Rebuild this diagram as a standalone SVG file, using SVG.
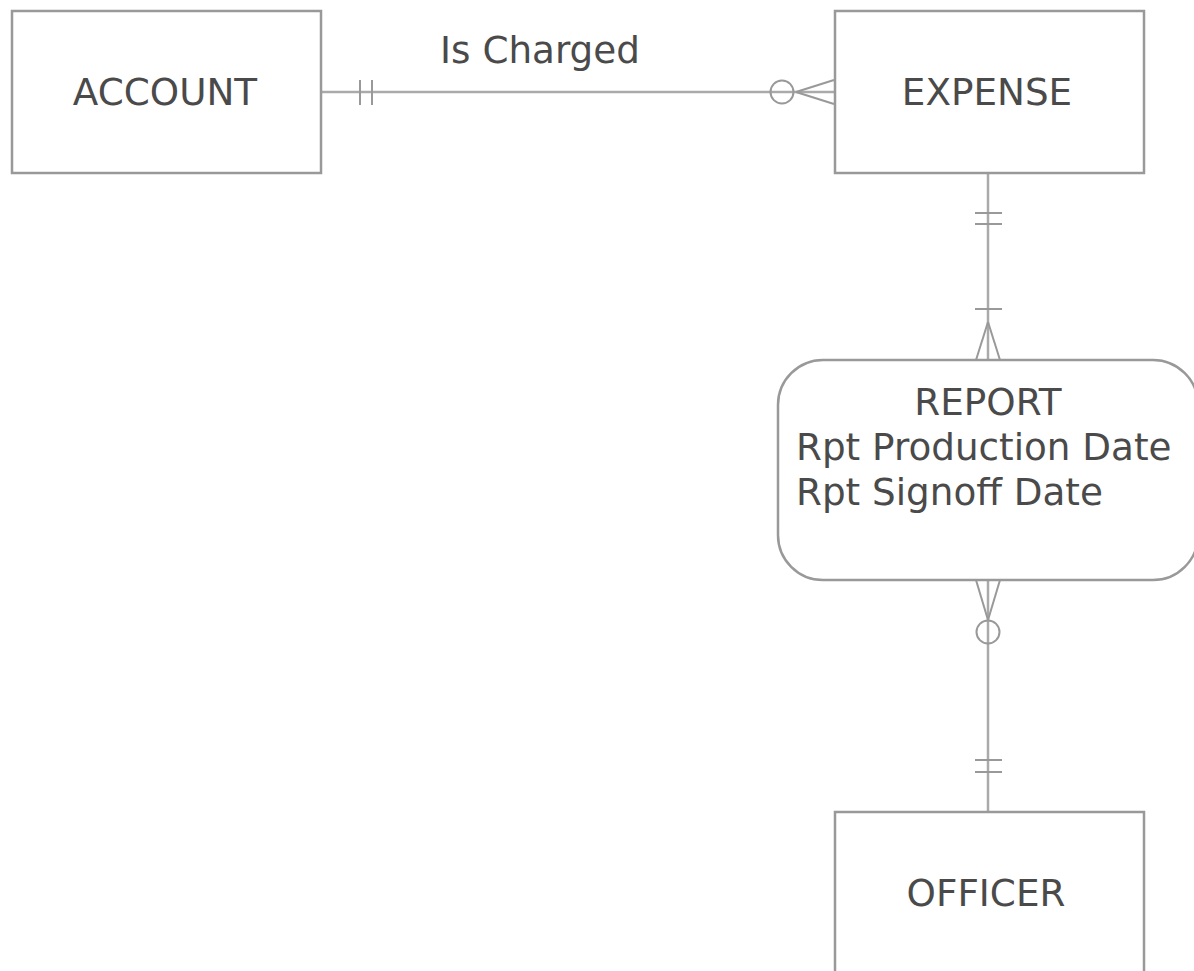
<svg xmlns="http://www.w3.org/2000/svg" width="1194" height="971" viewBox="0 0 1194 971">
<style>
.box{fill:#fff;stroke:#999;stroke-width:2.5}
.ln{fill:none;stroke:#aaa;stroke-width:2.5}
.mk{fill:none;stroke:#999;stroke-width:2}
.t{font-family:"DejaVu Sans",Verdana,sans-serif;font-size:37.3px;fill:#4a4a4a}
</style>
<rect width="1194" height="971" fill="#fff"/>
<g id="connectors">
<g id="c-account-expense">
<line class="ln" x1="321" y1="92" x2="834" y2="92"/>
<line class="mk" x1="360" y1="80" x2="360" y2="105"/>
<line class="mk" x1="372" y1="80" x2="372" y2="105"/>
<circle class="mk" cx="782" cy="92" r="11.5" fill="#fff"/>
<line class="mk" x1="796" y1="92" x2="834" y2="80"/>
<line class="mk" x1="796" y1="92" x2="834" y2="104"/>
<text class="t" x="540" y="63" text-anchor="middle">Is Charged</text>
</g>
<g id="c-expense-report">
<line class="ln" x1="988" y1="173" x2="988" y2="360"/>
<line class="mk" x1="975" y1="213" x2="1002" y2="213"/>
<line class="mk" x1="975" y1="224" x2="1002" y2="224"/>
<line class="mk" x1="975" y1="309" x2="1002" y2="309"/>
<line class="mk" x1="988" y1="322" x2="976" y2="360"/>
<line class="mk" x1="988" y1="322" x2="1000" y2="360"/>
</g>
<g id="c-report-officer">
<line class="ln" x1="988" y1="580" x2="988" y2="812"/>
<line class="mk" x1="988" y1="620" x2="976" y2="580"/>
<line class="mk" x1="988" y1="620" x2="1000" y2="580"/>
<circle class="mk" cx="988" cy="632" r="11.5" fill="#fff"/>
<line class="mk" x1="975" y1="760" x2="1002" y2="760"/>
<line class="mk" x1="975" y1="772" x2="1002" y2="772"/>
</g>
</g>
<g id="account">
<rect class="box" x="12" y="11" width="309" height="162"/>
<text class="t" x="165" y="105" text-anchor="middle">ACCOUNT</text>
</g>
<g id="expense">
<rect class="box" x="835" y="11" width="309" height="162"/>
<text class="t" x="987" y="105" text-anchor="middle">EXPENSE</text>
</g>
<g id="report">
<rect class="box" x="778" y="360" width="420" height="220" rx="45" ry="45"/>
<text class="t" x="988" y="415" text-anchor="middle">REPORT</text>
<text class="t" x="796" y="460">Rpt Production Date</text>
<text class="t" x="796" y="505">Rpt Signoff Date</text>
</g>
<g id="officer">
<rect class="box" x="835" y="812" width="309" height="180"/>
<text class="t" x="986" y="906" text-anchor="middle">OFFICER</text>
</g>
</svg>
